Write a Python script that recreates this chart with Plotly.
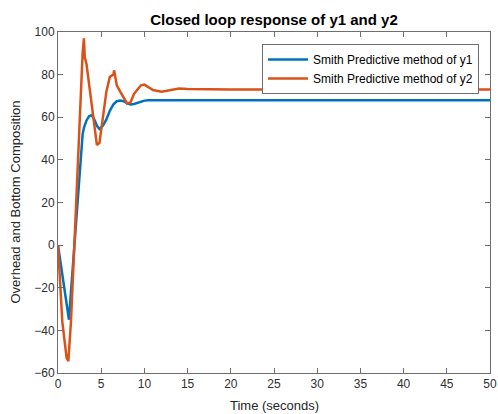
import plotly.graph_objects as go

t = [0, 0.5, 1.0, 1.2, 1.27, 1.5, 2.0, 2.5, 2.85, 3.0, 3.1, 3.3, 3.6, 3.9, 4.2, 4.5, 4.8, 5.2,
     5.6, 6.0, 6.4, 6.5, 6.8, 7.2, 7.6, 8.0, 8.4, 8.8, 9.2, 9.6, 10, 10.5, 11, 12, 13, 14, 15,
     20, 30, 40, 50]
y1 = [0, -14, -27, -32, -35, -22, 6, 33, 52, 55, 56.5, 58.5, 60.5, 61, 59, 56, 54.5, 56,
      59, 63, 66, 66.5, 67.5, 67.8, 67.5, 66.5, 66, 66.2, 66.8, 67.4, 67.8, 68, 68, 67.8, 67.7, 67.9, 68,
      68, 68, 68, 68]
y2 = [0, -36, -53, -54.5, -50, -36, 10, 62, 90, 97, 88, 85, 75, 65, 55, 47, 48, 60,
      72, 79, 80, 82, 75, 72, 69, 66.5, 67, 71, 73, 75, 75.3, 74, 72.8, 72, 72.8, 73.5, 73.3,
      73, 73, 73, 73]

series_names = ["Smith Predictive method of y1", "Smith Predictive method of y2"]
colors = ["#0072BD", "#D95319"]

fig = go.Figure()
for yv, name, c in zip([y1, y2], series_names, colors):
    fig.add_trace(go.Scatter(x=t, y=yv, mode="lines", name=name,
                             line=dict(color=c, width=2.5)))

axis_common = dict(showgrid=False, zeroline=False, showline=True, linecolor="#6e6e6e",
                   linewidth=1, mirror="ticks", ticks="inside", ticklen=5, automargin=False,
                   tickcolor="#6e6e6e", tickfont=dict(size=12, color="#303030"))

fig.update_layout(
    width=498, height=414,
    margin=dict(l=58, r=8, t=32, b=41),
    paper_bgcolor="white", plot_bgcolor="white",
    font=dict(family="Liberation Sans, Arial, sans-serif", color="#262626"),
    title=dict(text="<b>Closed loop response of y1 and y2</b>", x=0.5, xanchor="center",
               xref="paper", y=0.952, yanchor="middle", font=dict(size=15, color="black")),
    xaxis=dict(range=[0, 50], tickmode="array", tickvals=list(range(0, 51, 5)), **axis_common),
    yaxis=dict(range=[-60, 100], tickmode="array", tickvals=list(range(-60, 101, 20)),
               **axis_common),
    legend=dict(x=0.9745, y=0.965, xanchor="right", yanchor="top", bgcolor="white",
                bordercolor="#6e6e6e", borderwidth=1, font=dict(size=12, color="black"),
                tracegroupgap=0, itemwidth=40),
    showlegend=True,
    annotations=[
        dict(text="Time (seconds)", xref="paper", yref="paper", x=0.5, y=-0.094,
             xanchor="center", yanchor="middle", showarrow=False,
             font=dict(size=13, color="#262626")),
        dict(text="Overhead and Bottom Composition", xref="paper", yref="paper", x=-0.0995,
             y=0.5, xanchor="center", yanchor="middle", textangle=-90, showarrow=False,
             font=dict(size=13, color="#262626")),
    ],
)

fig.write_html("out.html", config={"displayModeBar": False},
               post_script="document.body.style.margin='0';document.body.style.overflow='hidden';")
